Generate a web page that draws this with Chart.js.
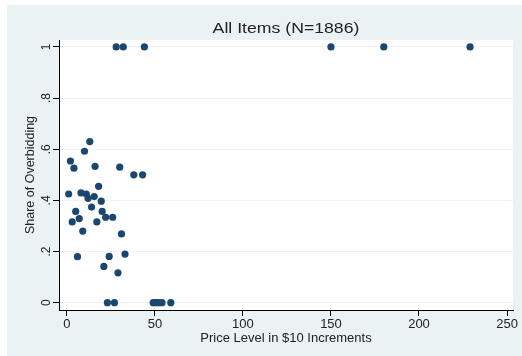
<!DOCTYPE html>
<html>
<head>
<meta charset="utf-8">
<script src="https://cdn.jsdelivr.net/npm/chart.js@4/dist/chart.umd.min.js"></script>
<style>
  html, body { margin: 0; padding: 0; background: #fff; }
  #wrap { width: 522px; height: 356px; }
</style>
</head>
<body>
<div id="wrap"><canvas id="scatterCanvas" width="522" height="356"></canvas></div>
<script>
// price level (in $10 steps) and share of overbidding
let priceLevel = [
    2, 4, 10, 13, 16, 30, 38, 43,
    1, 8, 11, 12, 15.5, 18, 19.5,
    5, 14, 20, 3, 7, 17, 22, 26,
    9, 31, 6, 24, 33, 21, 29,
    23, 27, 49, 50.5, 52, 54, 59,
    28, 32, 44, 150, 180, 229
];
let overbidShare = [
    .554, .526, .592, .63, .533, .53, .50, .50,
    .425, .429, .425, .408, .415, .455, .397,
    .357, .374, .357, .316, .329, .316, .334, .334,
    .28, .269, .18, .181, .19, .142, .117,
    0, 0, 0, 0, 0, 0, 0,
    1, 1, 1, 1, 1, 1
];

let xTicks = [0, 50, 100, 150, 200, 250];
let yTicks = [0, .2, .4, .6, .8, 1];
let chartTitle = 'All Items (N=1886)';

let points = priceLevel.map(function (x, i) {
    return { x: x, y: overbidShare[i] };
});

let fontFamily = '"Liberation Sans", Arial, sans-serif';
let textColor = '#222';
let navy = '#1a476f';

let stataLook = {
    id: 'stataLook',
    beforeDraw: function (chart) {
        let ctx = chart.ctx;
        let area = chart.chartArea;
        ctx.save();
        ctx.fillStyle = '#eaf2f3';
        ctx.fillRect(7, 5, chart.width - 7, chart.height - 5);
        ctx.fillStyle = '#fff';
        ctx.fillRect(area.left, area.top, area.right - area.left, area.bottom - area.top);
        ctx.restore();
    },
    afterDraw: function (chart) {
        let ctx = chart.ctx;
        let area = chart.chartArea;
        let yScale = chart.scales.y;
        ctx.save();
        ctx.fillStyle = textColor;
        ctx.textAlign = 'center';
        ctx.textBaseline = 'middle';

        // the original's text is a bit wider than Arial, so stretch the title
        ctx.save();
        ctx.font = '15.5px ' + fontFamily;
        ctx.translate((area.left + area.right) / 2, 29);
        ctx.scale(1.14, 1);
        ctx.fillText(chartTitle, 0, 0);
        ctx.restore();

        // y tick labels turned like the original
        ctx.font = '12px ' + fontFamily;
        yTicks.forEach(function (v) {
            let label = v === 0 ? '0' : v === 1 ? '1' : String(v).replace('0.', '.');
            ctx.save();
            ctx.translate(47, yScale.getPixelForValue(v));
            ctx.rotate(-Math.PI / 2);
            ctx.fillText(label, 0, 0);
            ctx.restore();
        });
        ctx.restore();
    }
};

let ctx = document.getElementById('scatterCanvas').getContext('2d');

window.scatterChart = new Chart(ctx, {
    type: 'scatter',
    data: {
        datasets: [{
            data: points,
            backgroundColor: navy,
            borderColor: navy,
            pointRadius: 3.6,
            pointHoverRadius: 3.6,
            borderWidth: 0
        }]
    },
    options: {
        responsive: false,
        animation: false,
        layout: { padding: { left: 7, top: 40, right: 9, bottom: 0 } },
        plugins: {
            legend: { display: false },
            tooltip: { enabled: false },
            title: { display: false }
        },
        scales: {
            x: {
                type: 'linear',
                min: -4.5,
                max: 253.4,
                afterBuildTicks: function (scale) {
                    scale.ticks = xTicks.map(function (v) { return { value: v }; });
                },
                afterFit: function (scale) { scale.height = 46; },
                grid: {
                    color: 'rgba(0,0,0,0)',
                    tickColor: '#000',
                    tickLength: 6,
                    drawOnChartArea: false
                },
                border: { color: '#000', width: 1 },
                ticks: {
                    color: textColor,
                    font: { family: fontFamily, size: 13 },
                    padding: 1,
                    maxRotation: 0
                },
                title: {
                    display: true,
                    text: 'Price Level in $10 Increments',
                    color: textColor,
                    font: { family: fontFamily, size: 13 },
                    padding: { top: 0, bottom: 10 }
                }
            },
            y: {
                type: 'linear',
                min: -0.0285,
                max: 1.027,
                afterBuildTicks: function (scale) {
                    scale.ticks = yTicks.map(function (v) { return { value: v }; });
                },
                afterFit: function (scale) { scale.width = 52; },
                grid: {
                    color: '#eaf2f3',
                    tickColor: '#000',
                    tickLength: 6,
                    lineWidth: 1
                },
                border: { color: '#000', width: 1 },
                ticks: { display: false },
                title: {
                    display: true,
                    text: 'Share of Overbidding',
                    color: textColor,
                    font: { family: fontFamily, size: 12.5 },
                    padding: { top: 16, bottom: 0 }
                }
            }
        }
    },
    plugins: [stataLook]
});
</script>
</body>
</html>
